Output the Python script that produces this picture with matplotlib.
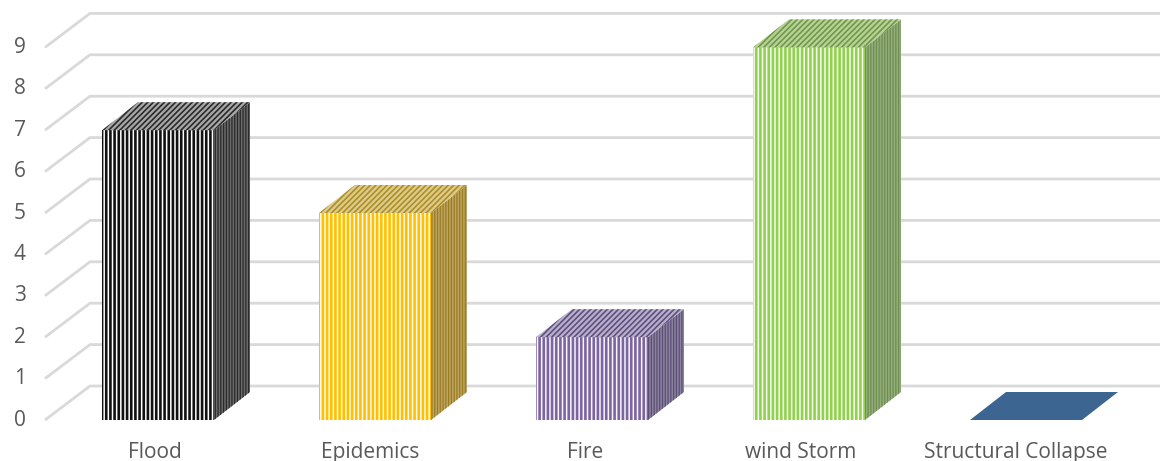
import matplotlib
matplotlib.use("Agg")
import matplotlib.pyplot as plt
from matplotlib.patches import Polygon

categories = ["Flood", "Epidemics", "Fire", "wind Storm", "Structural Collapse"]
values = [7, 5, 2, 9, 0]
yticks = [0, 1, 2, 3, 4, 5, 6, 7, 8, 9]

# styles (front face bg, front stripes, side bg, side stripes, top bg, top stripes)
front_bg = ["#ffffff", "#fffaf0", "#f8f6fb", "#f6fbf0", "#3d6592"]
front_st = ["#111111", "#ffc000", "#7b64a0", "#92d050", "#3d6592"]
side_bg = ["#6a6a6a", "#bca466", "#8a829c", "#93ad7c", "#3d6592"]
side_st = ["#2a2a2a", "#9c7c1c", "#5c4e78", "#6f8f50", "#3d6592"]
top_bg = ["#a8a8a8", "#dccc90", "#b8b0ca", "#b8d29a", "#3d6592"]
top_st = ["#2a2a2a", "#b08e20", "#5f4f80", "#6f9a45", "#3d6592"]
use_hatch = [True, True, True, True, False]

plt.rcParams["hatch.linewidth"] = 1.9
plt.rcParams["font.family"] = ["Open Sans", "DejaVu Sans"]

W, H = 1160, 461
fig = plt.figure(figsize=(W / 100, H / 100), dpi=100)
ax = fig.add_axes([0, 0, 1, 1])
ax.set_axis_off()

# pixel mapping -> data
x0p, xs = 158.0, 217.0
y0p, ys = 420.0, 41.4
ax.set_xlim((0 - x0p) / xs, (W - x0p) / xs)
ax.set_ylim((y0p - H) / ys, y0p / ys)

wall_front_x = (45 - x0p) / xs
wall_back_x = (90 - x0p) / xs
wall_dy = 34 / ys
bar_half = 56 / xs
bar_dx = 36 / xs
bar_dy = 28 / ys
grid_c = "#d9d9d9"
xr = ax.get_xlim()[1]


def thin_hatch(p, lw):
    if hasattr(p, "set_hatch_linewidth"):
        try:
            p.set_hatch_linewidth(lw)
        except Exception:
            pass


for t in yticks:
    ax.plot([wall_front_x, wall_back_x, xr], [t, t + wall_dy, t + wall_dy],
            color=grid_c, lw=2.0, zorder=1, solid_capstyle="butt")
    ax.text((20 - x0p) / xs, t, str(t), ha="center", va="center",
            fontsize=15, color="#595959")

for i, (cat, v) in enumerate(zip(categories, values)):
    l, r = i - bar_half, i + bar_half
    h = use_hatch[i]
    # front
    ax.bar(i, v, width=2 * bar_half, bottom=0, facecolor=front_bg[i],
           edgecolor=front_st[i], hatch="||||" if h else None, lw=0, zorder=3)
    # side
    side = Polygon([[r, 0], [r + bar_dx, bar_dy], [r + bar_dx, v + bar_dy], [r, v]],
                   closed=True, facecolor=side_bg[i], edgecolor=side_st[i],
                   hatch="||||||" if h else None, lw=0, zorder=3)
    thin_hatch(side, 0.9)
    ax.add_patch(side)
    # top
    top = Polygon([[l, v], [r, v], [r + bar_dx, v + bar_dy], [l + bar_dx, v + bar_dy]],
                  closed=True, facecolor=top_bg[i], edgecolor=top_st[i],
                  hatch="//////" if h else None, lw=0, zorder=4)
    thin_hatch(top, 1.2)
    ax.add_patch(top)
    ax.text(i * 0.992 - 0.014, (y0p - 452) / ys, cat, ha="center", va="center",
            fontsize=15, color="#595959")

fig.savefig("out.png", dpi=100)
